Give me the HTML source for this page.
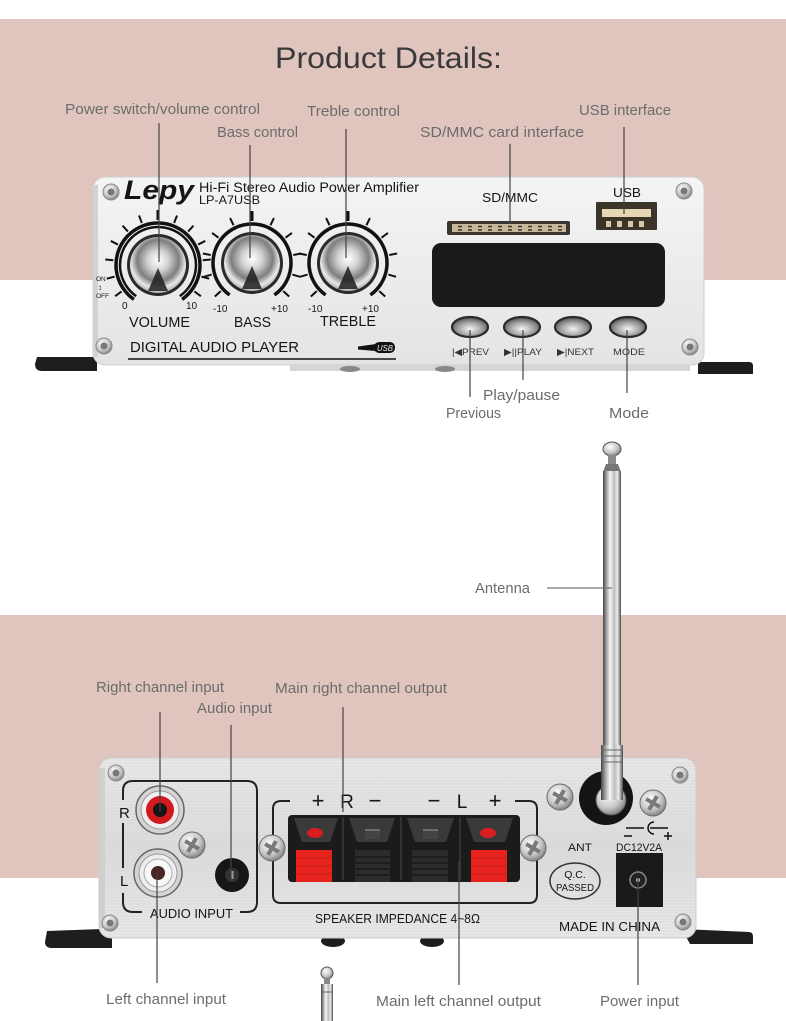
<!DOCTYPE html>
<html><head><meta charset="utf-8">
<style>
html,body{margin:0;padding:0;background:#fff;}
svg{display:block;}
text{font-family:"Liberation Sans","DejaVu Sans",sans-serif;}
.lbl{fill:#6c6c6c;font-size:15px;}
.blk{fill:#151515;}
</style></head>
<body>
<svg width="786" height="1021" viewBox="0 0 786 1021" xmlns="http://www.w3.org/2000/svg">
<defs>
 <linearGradient id="fp" x1="0" y1="0" x2="0" y2="1">
  <stop offset="0" stop-color="#f4f4f4"/><stop offset="1" stop-color="#e4e4e4"/>
 </linearGradient>
 <linearGradient id="rp" x1="0" y1="0" x2="0" y2="1">
  <stop offset="0" stop-color="#e8e8e8"/><stop offset="0.5" stop-color="#dcdcdc"/><stop offset="1" stop-color="#e8e8e8"/>
 </linearGradient>
 <pattern id="brush" width="60" height="3" patternUnits="userSpaceOnUse">
  <line x1="0" y1="1" x2="60" y2="1" stroke="#c4c4c4" stroke-width="0.6" opacity="0.55"/>
 </pattern>
 <radialGradient id="chrome" cx="0.5" cy="0.42" r="0.6">
  <stop offset="0" stop-color="#ffffff"/><stop offset="0.3" stop-color="#d4d4d4"/><stop offset="0.62" stop-color="#7e7e7e"/><stop offset="0.82" stop-color="#e8e8e8"/><stop offset="1" stop-color="#a0a0a0"/>
 </radialGradient>
 <linearGradient id="rod" x1="0" y1="0" x2="1" y2="0">
  <stop offset="0" stop-color="#444"/><stop offset="0.18" stop-color="#9c9c9c"/><stop offset="0.4" stop-color="#f7f7f7"/><stop offset="0.62" stop-color="#bdbdbd"/><stop offset="0.8" stop-color="#ececec"/><stop offset="1" stop-color="#4a4a4a"/>
 </linearGradient>
 <radialGradient id="screw" cx="0.4" cy="0.35" r="0.7">
  <stop offset="0" stop-color="#ffffff"/><stop offset="0.6" stop-color="#c6c6c6"/><stop offset="1" stop-color="#777"/>
 </radialGradient>
 <radialGradient id="btn" cx="0.5" cy="0.6" r="0.6">
  <stop offset="0" stop-color="#f4f4f4"/><stop offset="0.6" stop-color="#9a9a9a"/><stop offset="1" stop-color="#4a4a4a"/>
 </radialGradient>
</defs>

<rect x="0" y="19" width="786" height="261" fill="#dfc5bd"/>
<rect x="0" y="615" width="786" height="263" fill="#dfc5bd"/>

<text x="275" y="68" font-size="30" fill="#3a3a3a" textLength="227" lengthAdjust="spacingAndGlyphs">Product Details:</text>

<!-- FRONT PANEL -->
<path d="M37,357 L97,357 L97,371 L42,371 Q35,371 35,364 Z" fill="#1e1e1e"/>
<path d="M698,362 L749,362 Q753,362 753,366 L753,374 L698,374 Z" fill="#1e1e1e"/>
<rect x="290" y="361" width="400" height="10" fill="#d6d6d6"/>
<ellipse cx="350" cy="369" rx="10" ry="3" fill="#888"/>
<ellipse cx="445" cy="369" rx="10" ry="3" fill="#888"/>

<rect x="93" y="177" width="611" height="188" rx="12" fill="url(#fp)" stroke="#cfcfcf" stroke-width="1"/>
<rect x="93" y="185" width="5" height="172" fill="#d2d2d2"/>

<g>
 <circle cx="111" cy="192" r="8" fill="url(#screw)" stroke="#8a8a8a"/><circle cx="111" cy="192" r="3.5" fill="#777"/>
 <circle cx="104" cy="346" r="8" fill="url(#screw)" stroke="#8a8a8a"/><circle cx="104" cy="346" r="3.5" fill="#777"/>
 <circle cx="684" cy="191" r="8" fill="url(#screw)" stroke="#8a8a8a"/><circle cx="684" cy="191" r="3.5" fill="#777"/>
 <circle cx="690" cy="347" r="8" fill="url(#screw)" stroke="#8a8a8a"/><circle cx="690" cy="347" r="3.5" fill="#777"/>
</g>

<text x="124" y="199" font-size="27" font-weight="bold" font-style="italic" class="blk" textLength="70" lengthAdjust="spacingAndGlyphs">Lepy</text>
<text x="199" y="192" font-size="13.5" class="blk" textLength="220" lengthAdjust="spacingAndGlyphs">Hi-Fi Stereo Audio Power Amplifier</text>
<text x="199" y="204" font-size="12" class="blk" textLength="61" lengthAdjust="spacingAndGlyphs">LP-A7USB</text>

<!-- VOLUME knob -->
<g transform="translate(158,265)" stroke="#111" fill="none">
 <path d="M-24.09,34.41 A42,42 0 1 1 24.09,34.41" stroke-width="3.5"/>
 <path d="M-21.8,31.13 A38,38 0 1 1 21.8,31.13" stroke-width="2.5"/>
 <g stroke-width="2">
  <line x1="0" y1="-45" x2="0" y2="-53" transform="rotate(-126)"/>
  <line x1="0" y1="-45" x2="0" y2="-53" transform="rotate(-105)"/>
  <line x1="0" y1="-45" x2="0" y2="-53" transform="rotate(-84)"/>
  <line x1="0" y1="-45" x2="0" y2="-53" transform="rotate(-63)"/>
  <line x1="0" y1="-45" x2="0" y2="-53" transform="rotate(-42)"/>
  <line x1="0" y1="-45" x2="0" y2="-53" transform="rotate(-21)"/>
  <line x1="0" y1="-45" x2="0" y2="-55" stroke-width="3"/>
  <line x1="0" y1="-45" x2="0" y2="-53" transform="rotate(21)"/>
  <line x1="0" y1="-45" x2="0" y2="-53" transform="rotate(42)"/>
  <line x1="0" y1="-45" x2="0" y2="-53" transform="rotate(63)"/>
  <line x1="0" y1="-45" x2="0" y2="-53" transform="rotate(84)"/>
  <line x1="0" y1="-45" x2="0" y2="-53" transform="rotate(105)"/>
  <line x1="0" y1="-45" x2="0" y2="-53" transform="rotate(126)"/>
 </g>
 <circle r="31" fill="#2a2a2a" stroke="none"/>
 <circle r="28" fill="url(#chrome)" stroke="none"/>
 <path d="M-10,26 L0,3 L10,26 Z" fill="#1e1e1e" stroke="none" opacity="0.85"/>
</g>
<text x="96" y="281" font-size="6.5" class="blk">ON</text>
<text x="98" y="290" font-size="8" class="blk">↕</text>
<text x="96" y="298" font-size="6.5" class="blk">OFF</text>

<!-- BASS knob -->
<g transform="translate(252,263)" stroke="#111" fill="none">
 <path d="M-22.37,31.95 A39,39 0 1 1 22.37,31.95" stroke-width="3.5"/>
 <g stroke-width="2">
  <line x1="0" y1="-42" x2="0" y2="-50" transform="rotate(-132)"/>
  <line x1="0" y1="-42" x2="0" y2="-50" transform="rotate(-106)"/>
  <line x1="0" y1="-42" x2="0" y2="-50" transform="rotate(-79)"/>
  <line x1="0" y1="-42" x2="0" y2="-50" transform="rotate(-53)"/>
  <line x1="0" y1="-42" x2="0" y2="-50" transform="rotate(-26)"/>
  <line x1="0" y1="-42" x2="0" y2="-52" stroke-width="3"/>
  <line x1="0" y1="-42" x2="0" y2="-50" transform="rotate(26)"/>
  <line x1="0" y1="-42" x2="0" y2="-50" transform="rotate(53)"/>
  <line x1="0" y1="-42" x2="0" y2="-50" transform="rotate(79)"/>
  <line x1="0" y1="-42" x2="0" y2="-50" transform="rotate(106)"/>
  <line x1="0" y1="-42" x2="0" y2="-50" transform="rotate(132)"/>
 </g>
 <circle r="31" fill="#2a2a2a" stroke="none"/>
 <circle r="28" fill="url(#chrome)" stroke="none"/>
 <path d="M-10,26 L0,3 L10,26 Z" fill="#1e1e1e" stroke="none" opacity="0.85"/>
</g>

<!-- TREBLE knob -->
<g transform="translate(348,263)" stroke="#111" fill="none">
 <path d="M-22.37,31.95 A39,39 0 1 1 22.37,31.95" stroke-width="3.5"/>
 <g stroke-width="2">
  <line x1="0" y1="-42" x2="0" y2="-50" transform="rotate(-132)"/>
  <line x1="0" y1="-42" x2="0" y2="-50" transform="rotate(-106)"/>
  <line x1="0" y1="-42" x2="0" y2="-50" transform="rotate(-79)"/>
  <line x1="0" y1="-42" x2="0" y2="-50" transform="rotate(-53)"/>
  <line x1="0" y1="-42" x2="0" y2="-50" transform="rotate(-26)"/>
  <line x1="0" y1="-42" x2="0" y2="-52" stroke-width="3"/>
  <line x1="0" y1="-42" x2="0" y2="-50" transform="rotate(26)"/>
  <line x1="0" y1="-42" x2="0" y2="-50" transform="rotate(53)"/>
  <line x1="0" y1="-42" x2="0" y2="-50" transform="rotate(79)"/>
  <line x1="0" y1="-42" x2="0" y2="-50" transform="rotate(106)"/>
  <line x1="0" y1="-42" x2="0" y2="-50" transform="rotate(132)"/>
 </g>
 <circle r="31" fill="#2a2a2a" stroke="none"/>
 <circle r="28" fill="url(#chrome)" stroke="none"/>
 <path d="M-10,26 L0,3 L10,26 Z" fill="#1e1e1e" stroke="none" opacity="0.85"/>
</g>

<g class="blk" font-size="10">
 <text x="122" y="309">0</text>
 <text x="186" y="309">10</text>
 <text x="213" y="312">-10</text>
 <text x="271" y="312">+10</text>
 <text x="308" y="312">-10</text>
 <text x="362" y="312">+10</text>
</g>
<g class="blk" font-size="15">
 <text x="129" y="327" textLength="61" lengthAdjust="spacingAndGlyphs">VOLUME</text>
 <text x="234" y="327" textLength="37" lengthAdjust="spacingAndGlyphs">BASS</text>
 <text x="320" y="326" textLength="56" lengthAdjust="spacingAndGlyphs">TREBLE</text>
 <text x="130" y="352" textLength="169" lengthAdjust="spacingAndGlyphs">DIGITAL AUDIO PLAYER</text>
</g>
<line x1="128" y1="359" x2="396" y2="359" stroke="#111" stroke-width="1.6"/>
<polygon points="358,346.5 376,344 376,351 358,349.5" fill="#111"/>
<rect x="374" y="342" width="21" height="11" rx="5" fill="#111"/>
<text x="377" y="351" font-size="8" font-style="italic" fill="#eee" textLength="16" lengthAdjust="spacingAndGlyphs">USB</text>

<text x="482" y="202" font-size="13" class="blk" textLength="56" lengthAdjust="spacingAndGlyphs">SD/MMC</text>
<rect x="447" y="221" width="123" height="14" rx="2" fill="#3a3530"/>
<rect x="452" y="224" width="114" height="8" fill="#c7b89a"/>
<line x1="458" y1="226.5" x2="562" y2="226.5" stroke="#3a3530" stroke-width="1.5" stroke-dasharray="4,6"/>
<line x1="458" y1="230" x2="562" y2="230" stroke="#3a3530" stroke-width="1.5" stroke-dasharray="4,6"/>
<text x="613" y="197" font-size="13" class="blk" textLength="28" lengthAdjust="spacingAndGlyphs">USB</text>
<rect x="596" y="202" width="61" height="28" rx="1" fill="#3b3428"/>
<rect x="602" y="209" width="49" height="8" fill="#e6d6b6"/>
<g fill="#d8c8a8"><rect x="606" y="221" width="5" height="6"/><rect x="617" y="221" width="5" height="6"/><rect x="628" y="221" width="5" height="6"/><rect x="639" y="221" width="5" height="6"/></g>

<rect x="432" y="243" width="233" height="64" rx="9" fill="#1a1a1a"/>

<g stroke="#2a2a2a" stroke-width="2.2">
 <ellipse cx="470" cy="327" rx="18" ry="10" fill="url(#btn)"/>
 <ellipse cx="522" cy="327" rx="18" ry="10" fill="url(#btn)"/>
 <ellipse cx="573" cy="327" rx="18" ry="10" fill="url(#btn)"/>
 <ellipse cx="628" cy="327" rx="18" ry="10" fill="url(#btn)"/>
</g>
<g font-size="9.5" fill="#333">
 <text x="452" y="355" textLength="37" lengthAdjust="spacingAndGlyphs">|◀PREV</text>
 <text x="504" y="355" textLength="38" lengthAdjust="spacingAndGlyphs">▶||PLAY</text>
 <text x="557" y="355" textLength="37" lengthAdjust="spacingAndGlyphs">▶|NEXT</text>
 <text x="613" y="355" textLength="32" lengthAdjust="spacingAndGlyphs">MODE</text>
</g>

<g stroke="#444" stroke-width="1.2">
 <line x1="159" y1="123" x2="159" y2="262"/>
 <line x1="250" y1="145" x2="250" y2="258"/>
 <line x1="346" y1="129" x2="346" y2="258"/>
 <line x1="510" y1="144" x2="510" y2="224"/>
 <line x1="624" y1="127" x2="624" y2="214"/>
 <line x1="470" y1="330" x2="470" y2="397"/>
 <line x1="523" y1="330" x2="523" y2="380"/>
 <line x1="627" y1="330" x2="627" y2="393"/>
</g>
<g class="lbl">
 <text x="65" y="114" textLength="195" lengthAdjust="spacingAndGlyphs">Power switch/volume control</text>
 <text x="217" y="137" textLength="81" lengthAdjust="spacingAndGlyphs">Bass control</text>
 <text x="307" y="116" textLength="93" lengthAdjust="spacingAndGlyphs">Treble control</text>
 <text x="420" y="137" textLength="164" lengthAdjust="spacingAndGlyphs">SD/MMC card interface</text>
 <text x="579" y="115" textLength="92" lengthAdjust="spacingAndGlyphs">USB interface</text>
 <text x="483" y="400" textLength="77" lengthAdjust="spacingAndGlyphs">Play/pause</text>
 <text x="446" y="418" textLength="55" lengthAdjust="spacingAndGlyphs">Previous</text>
 <text x="609" y="418" textLength="40" lengthAdjust="spacingAndGlyphs">Mode</text>
</g>

<!-- ANTENNA -->
<ellipse cx="612" cy="449" rx="9" ry="7" fill="url(#screw)" stroke="#555"/>
<rect x="608" y="455" width="8" height="9" fill="#8a8a8a"/>
<path d="M606,464 L618,464 L621,472 L603,472 Z" fill="#777"/>
<rect x="603" y="471" width="18" height="280" fill="url(#rod)"/>
<line x1="547" y1="588" x2="612" y2="588" stroke="#777" stroke-width="1.3"/>
<text x="475" y="593" class="lbl" textLength="55" lengthAdjust="spacingAndGlyphs">Antenna</text>

<!-- REAR PANEL -->
<path d="M47,931 L102,929 L112,938 L112,948 L52,948 Q45,948 45,942 Z" fill="#1e1e1e"/>
<path d="M682,929 L749,932 Q753,932 753,937 L753,944 L690,944 Z" fill="#1e1e1e"/>
<ellipse cx="333" cy="941" rx="12" ry="6" fill="#1e1e1e"/>
<ellipse cx="432" cy="941" rx="12" ry="6" fill="#1e1e1e"/>

<rect x="99" y="758" width="597" height="180" rx="12" fill="url(#rp)" stroke="#cdcdcd"/>
<rect x="99" y="758" width="597" height="180" rx="12" fill="url(#brush)"/>
<rect x="99" y="768" width="6" height="160" fill="#cfcfcf"/>

<g>
 <circle cx="116" cy="773" r="8" fill="url(#screw)" stroke="#8a8a8a"/><circle cx="116" cy="773" r="3.5" fill="#777"/>
 <circle cx="110" cy="923" r="8" fill="url(#screw)" stroke="#8a8a8a"/><circle cx="110" cy="923" r="3.5" fill="#777"/>
 <circle cx="680" cy="775" r="8" fill="url(#screw)" stroke="#8a8a8a"/><circle cx="680" cy="775" r="3.5" fill="#777"/>
 <circle cx="683" cy="922" r="8" fill="url(#screw)" stroke="#8a8a8a"/><circle cx="683" cy="922" r="3.5" fill="#777"/>
</g>

<g stroke="#222" stroke-width="2" fill="none">
 <path d="M142,912 L133,912 Q123,912 123,902 L123,893"/>
 <path d="M123,868 L123,823"/>
 <path d="M123,800 L123,791 Q123,781 133,781 L247,781 Q257,781 257,791 L257,902 Q257,912 247,912 L240,912"/>
</g>
<text x="119" y="818" font-size="15" class="blk">R</text>
<text x="120" y="886" font-size="15" class="blk">L</text>
<text x="150" y="918" font-size="13" class="blk" textLength="83" lengthAdjust="spacingAndGlyphs">AUDIO INPUT</text>

<circle cx="160" cy="810" r="24" fill="#d4d4d4" stroke="#666" stroke-width="1.5"/>
<circle cx="160" cy="810" r="19" fill="#eeeeee" stroke="#999"/>
<circle cx="160" cy="810" r="14" fill="#d11a1d"/>
<circle cx="160" cy="810" r="7" fill="#151515"/>
<circle cx="158" cy="873" r="24" fill="#d4d4d4" stroke="#666" stroke-width="1.5"/>
<circle cx="158" cy="873" r="19" fill="#eeeeee" stroke="#999"/>
<circle cx="158" cy="873" r="14" fill="#f8f8f8" stroke="#aaa"/>
<circle cx="158" cy="873" r="7" fill="#4a2525"/>
<circle cx="232" cy="875" r="17" fill="#161616"/>
<circle cx="232" cy="875" r="7" fill="#333"/>
<rect x="230.5" y="871" width="3" height="8" fill="#999"/>

<g>
 <g transform="translate(192,845)"><circle r="13" fill="url(#screw)" stroke="#6a6a6a"/><path d="M-2,-8 h4 v6 h6 v4 h-6 v6 h-4 v-6 h-6 v-4 h6z" fill="#7a7a7a" transform="rotate(30)"/></g>
 <g transform="translate(560,797)"><circle r="13" fill="url(#screw)" stroke="#6a6a6a"/><path d="M-2,-8 h4 v6 h6 v4 h-6 v6 h-4 v-6 h-6 v-4 h6z" fill="#7a7a7a" transform="rotate(30)"/></g>
 <g transform="translate(653,803)"><circle r="13" fill="url(#screw)" stroke="#6a6a6a"/><path d="M-2,-8 h4 v6 h6 v4 h-6 v6 h-4 v-6 h-6 v-4 h6z" fill="#7a7a7a" transform="rotate(30)"/></g>
</g>

<path d="M290,801 L281,801 Q273,801 273,809 L273,895 Q273,903 281,903 L529,903 Q537,903 537,895 L537,809 Q537,801 529,801 L515,801" stroke="#222" stroke-width="2" fill="none"/>
<g class="blk" font-size="22" text-anchor="middle">
 <text x="318" y="808">+</text>
 <text x="347" y="808" font-size="19">R</text>
 <text x="375" y="808">−</text>
 <text x="434" y="808">−</text>
 <text x="462" y="808" font-size="19">L</text>
 <text x="495" y="808">+</text>
</g>
<g transform="translate(272,848)"><circle r="13" fill="url(#screw)" stroke="#6a6a6a"/><path d="M-2,-8 h4 v6 h6 v4 h-6 v6 h-4 v-6 h-6 v-4 h6z" fill="#7a7a7a" transform="rotate(30)"/></g>
<g transform="translate(533,848)"><circle r="13" fill="url(#screw)" stroke="#6a6a6a"/><path d="M-2,-8 h4 v6 h6 v4 h-6 v6 h-4 v-6 h-6 v-4 h6z" fill="#7a7a7a" transform="rotate(30)"/></g>

<rect x="288" y="815" width="232" height="67" rx="4" fill="#1b1b1b"/>
<g stroke="#333" stroke-width="2">
 <line x1="343" y1="817" x2="343" y2="880"/>
 <line x1="401" y1="817" x2="401" y2="880"/>
 <line x1="460" y1="817" x2="460" y2="880"/>
</g>
<g fill="#3a3a3a">
 <polygon points="294,818 338,818 330,842 302,842"/>
 <polygon points="349,818 395,818 387,842 357,842"/>
 <polygon points="407,818 454,818 446,842 415,842"/>
 <polygon points="466,818 513,818 505,842 474,842"/>
</g>
<rect x="296" y="850" width="36" height="32" fill="#e8221e"/>
<rect x="471" y="850" width="36" height="32" fill="#e8221e"/>
<g stroke="#b81a16" stroke-width="0.8">
 <line x1="296" y1="858" x2="332" y2="858"/><line x1="296" y1="866" x2="332" y2="866"/><line x1="296" y1="874" x2="332" y2="874"/>
 <line x1="471" y1="858" x2="507" y2="858"/><line x1="471" y1="866" x2="507" y2="866"/><line x1="471" y1="874" x2="507" y2="874"/>
</g>
<ellipse cx="315" cy="833" rx="8" ry="5" fill="#d81e1e"/>
<ellipse cx="488" cy="833" rx="8" ry="5" fill="#d81e1e"/>
<rect x="355" y="850" width="35" height="32" fill="#2c2c2c"/>
<rect x="412" y="850" width="36" height="32" fill="#2c2c2c"/>
<g stroke="#111" stroke-width="1">
 <line x1="355" y1="857" x2="390" y2="857"/><line x1="355" y1="863" x2="390" y2="863"/><line x1="355" y1="869" x2="390" y2="869"/><line x1="355" y1="875" x2="390" y2="875"/>
 <line x1="412" y1="857" x2="448" y2="857"/><line x1="412" y1="863" x2="448" y2="863"/><line x1="412" y1="869" x2="448" y2="869"/><line x1="412" y1="875" x2="448" y2="875"/>
</g>
<rect x="365" y="830" width="15" height="9" fill="#444"/><line x1="365" y1="830" x2="380" y2="830" stroke="#999"/>
<rect x="423" y="830" width="15" height="9" fill="#444"/><line x1="423" y1="830" x2="438" y2="830" stroke="#999"/>

<text x="315" y="923" font-size="12.5" class="blk" textLength="165" lengthAdjust="spacingAndGlyphs">SPEAKER IMPEDANCE 4~8Ω</text>

<rect x="601" y="745" width="22" height="20" fill="url(#rod)"/>
<g stroke="#666" stroke-width="1"><line x1="601" y1="750" x2="623" y2="750"/><line x1="601" y1="756" x2="623" y2="756"/><line x1="601" y1="762" x2="623" y2="762"/></g>
<circle cx="606" cy="798" r="27" fill="#141414"/>
<circle cx="611" cy="800" r="15" fill="url(#screw)" stroke="#555"/>
<rect x="601" y="764" width="22" height="36" fill="url(#rod)"/>

<text x="568" y="851" font-size="11" class="blk" textLength="24" lengthAdjust="spacingAndGlyphs">ANT</text>
<text x="616" y="851" font-size="11" class="blk" textLength="46" lengthAdjust="spacingAndGlyphs">DC12V2A</text>
<g stroke="#111" stroke-width="1.5" fill="none">
 <line x1="626" y1="828" x2="644" y2="828"/>
 <path d="M654,822 A6,6 0 1 0 654,834"/>
 <line x1="650" y1="828" x2="668" y2="828"/>
 <line x1="624" y1="836" x2="632" y2="836"/>
 <line x1="664" y1="836" x2="672" y2="836"/><line x1="668" y1="832" x2="668" y2="840"/>
</g>
<ellipse cx="575" cy="881" rx="25" ry="18" fill="none" stroke="#333" stroke-width="1.5"/>
<text x="575" y="878" font-size="10.5" class="blk" text-anchor="middle">Q.C.</text>
<text x="575" y="891" font-size="10.5" class="blk" text-anchor="middle" textLength="38" lengthAdjust="spacingAndGlyphs">PASSED</text>
<rect x="616" y="853" width="47" height="54" fill="#1a1a1a"/>
<circle cx="638" cy="880" r="8" fill="#222" stroke="#888" stroke-width="1.5"/>
<circle cx="638" cy="880" r="2" fill="#bbb"/>
<text x="559" y="931" font-size="12.5" class="blk" textLength="101" lengthAdjust="spacingAndGlyphs">MADE IN CHINA</text>

<g stroke="#444" stroke-width="1.2">
 <line x1="160" y1="712" x2="160" y2="812"/>
 <line x1="231" y1="725" x2="231" y2="880"/>
 <line x1="343" y1="707" x2="343" y2="812"/>
 <line x1="157" y1="873" x2="157" y2="983"/>
 <line x1="459" y1="862" x2="459" y2="985"/>
 <line x1="638" y1="878" x2="638" y2="985"/>
</g>
<g class="lbl">
 <text x="96" y="692" textLength="128" lengthAdjust="spacingAndGlyphs">Right channel input</text>
 <text x="197" y="713" textLength="75" lengthAdjust="spacingAndGlyphs">Audio input</text>
 <text x="275" y="693" textLength="172" lengthAdjust="spacingAndGlyphs">Main right channel output</text>
 <text x="106" y="1004" textLength="120" lengthAdjust="spacingAndGlyphs">Left channel input</text>
 <text x="376" y="1006" textLength="165" lengthAdjust="spacingAndGlyphs">Main left channel output</text>
 <text x="600" y="1006" textLength="79" lengthAdjust="spacingAndGlyphs">Power input</text>
</g>

<circle cx="327" cy="973" r="6" fill="url(#screw)" stroke="#555"/>
<rect x="324" y="978" width="6" height="6" fill="#888"/>
<rect x="321" y="984" width="12" height="37" fill="url(#rod)"/>
<line x1="321" y1="992" x2="333" y2="992" stroke="#666"/>
</svg>
</body></html>
